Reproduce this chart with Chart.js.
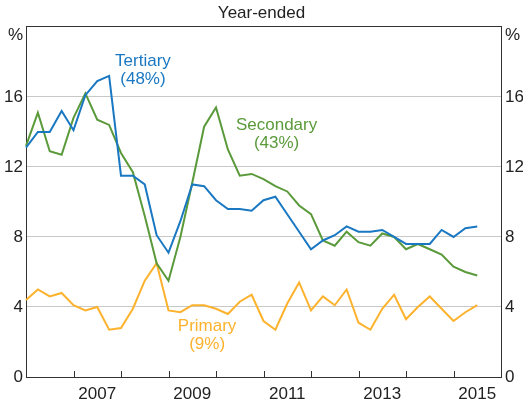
<!DOCTYPE html>
<html>
<head>
<meta charset="utf-8">
<script src="https://cdn.jsdelivr.net/npm/chart.js@4"></script>
<style>
  html, body { margin: 0; padding: 0; background: #fff; }
  #wrap { width: 523px; height: 406px; }
</style>
</head>
<body>
<div id="wrap"><canvas id="educationChart"></canvas></div>
<script>
const quarters = [
    'Dec-2005', 'Mar-2006', 'Jun-2006', 'Sep-2006', 'Dec-2006', 'Mar-2007', 'Jun-2007', 'Sep-2007',
    'Dec-2007', 'Mar-2008', 'Jun-2008', 'Sep-2008', 'Dec-2008', 'Mar-2009', 'Jun-2009', 'Sep-2009',
    'Dec-2009', 'Mar-2010', 'Jun-2010', 'Sep-2010', 'Dec-2010', 'Mar-2011', 'Jun-2011', 'Sep-2011',
    'Dec-2011', 'Mar-2012', 'Jun-2012', 'Sep-2012', 'Dec-2012', 'Mar-2013', 'Jun-2013', 'Sep-2013',
    'Dec-2013', 'Mar-2014', 'Jun-2014', 'Sep-2014', 'Dec-2014', 'Mar-2015', 'Jun-2015', 'Sep-2015',
    'Dec-2015'
];

const tertiary = [
    13.1, 14.0, 14.0, 15.2, 14.1, 16.1, 16.9, 17.2, 11.5, 11.5,
    11.0, 8.1, 7.1, 8.9, 11.0, 10.9, 10.1, 9.6, 9.6, 9.5,
    10.1, 10.3, 9.3, 8.3, 7.3, 7.8, 8.1, 8.6, 8.3, 8.3,
    8.4, 8.0, 7.6, 7.6, 7.6, 8.4, 8.0, 8.5, 8.6
];

const secondary = [
    13.2, 15.1, 12.9, 12.7, 14.8, 16.2, 14.7, 14.4, 12.8, 11.7,
    9.2, 6.5, 5.5, 8.0, 11.1, 14.3, 15.4, 13.0, 11.5, 11.6,
    11.3, 10.9, 10.6, 9.8, 9.3, 7.8, 7.5, 8.3, 7.7, 7.5,
    8.2, 8.0, 7.3, 7.6, 7.3, 7.0, 6.3, 6.0, 5.8
];

const primary = [
    4.4, 5.0, 4.6, 4.8, 4.1, 3.8, 4.0, 2.7, 2.8, 3.9,
    5.5, 6.5, 3.8, 3.7, 4.1, 4.1, 3.9, 3.6, 4.3, 4.7,
    3.2, 2.7, 4.2, 5.4, 3.8, 4.6, 4.1, 5.0, 3.1, 2.7,
    3.9, 4.7, 3.3, 4.0, 4.6, 3.9, 3.2, 3.7, 4.1
];

const yMin = 0;
const yMax = 20;
const yStep = 4;

const BLUE = '#1a78c2';
const GREEN = '#5a9a3a';
const ORANGE = '#fdb22d';
const TEXT = '#222';
const AXIS = '#333';
const GRID = '#c8c8c8';
const FONT_FAMILY = '"Liberation Sans", Arial, sans-serif';

// series names written on the plot, placed in data space (category index, value)
const seriesNotes = [
    { lines: ['Tertiary', '(48%)'], at: [9.85, 18.05], color: BLUE },
    { lines: ['Secondary', '(43%)'], at: [21.1, 14.35], color: GREEN },
    { lines: ['Primary', '(9%)'], at: [15.25, 2.9], color: ORANGE }
];

const notesPlugin = {
    id: 'seriesNotes',
    afterDraw(chart) {
        const { ctx, chartArea, scales } = chart;
        ctx.save();

        // year boundary tick marks, pointing up into the plot
        ctx.strokeStyle = AXIS;
        ctx.lineWidth = 1;
        ctx.beginPath();
        quarters.forEach((q, i) => {
            if (!q.startsWith('Dec') || i === 0 || i === quarters.length - 1) return;
            const px = Math.round(scales.x.getPixelForValue(i)) + 0.5;
            ctx.moveTo(px, chartArea.bottom);
            ctx.lineTo(px, chartArea.bottom - 6);
        });
        ctx.stroke();

        ctx.font = '17px ' + FONT_FAMILY;
        ctx.textBaseline = 'middle';
        ctx.textAlign = 'center';
        seriesNotes.forEach(note => {
            ctx.fillStyle = note.color;
            const px = scales.x.getPixelForValue(note.at[0]);
            const py = scales.y.getPixelForValue(note.at[1]);
            note.lines.forEach((line, i) => ctx.fillText(line, px, py + i * 18));
        });

        // unit markers at the top of both value axes
        ctx.fillStyle = TEXT;
        ctx.textAlign = 'right';
        ctx.fillText('%', scales.y.right - 3, chartArea.top + 8);
        ctx.textAlign = 'left';
        ctx.fillText('%', scales.y2.left + 4, chartArea.top + 8);
        ctx.restore();
    }
};

function yearLabel(label) {
    const [month, year] = label.split('-');
    return month === 'Jun' && Number(year) % 2 === 1 ? year : '';
}

const valueTicks = {
    stepSize: yStep,
    color: TEXT,
    font: { size: 17, family: FONT_FAMILY },
    callback: v => (v === yMax ? '' : v)
};

const lineStyle = { borderWidth: 2, pointRadius: 0, tension: 0, fill: false };

new Chart(document.getElementById('educationChart').getContext('2d'), {
    type: 'line',
    data: {
        labels: quarters,
        datasets: [
            { label: 'Tertiary', data: tertiary, borderColor: BLUE, ...lineStyle },
            { label: 'Secondary', data: secondary, borderColor: GREEN, ...lineStyle },
            { label: 'Primary', data: primary, borderColor: ORANGE, ...lineStyle }
        ]
    },
    options: {
        responsive: true,
        maintainAspectRatio: false,
        animation: false,
        devicePixelRatio: 1,
        plugins: {
            legend: { display: false },
            tooltip: { enabled: false },
            title: {
                display: true,
                text: 'Year-ended',
                color: TEXT,
                font: { size: 17, weight: 'normal', family: FONT_FAMILY },
                padding: { top: 3.5, bottom: 3 }
            }
        },
        scales: {
            x: {
                type: 'category',
                offset: false,
                afterFit: s => { s.height = 29; },
                border: { display: true, color: AXIS, width: 1 },
                grid: { drawOnChartArea: false, drawTicks: false },
                ticks: {
                    autoSkip: false,
                    maxRotation: 0,
                    padding: 7,
                    color: TEXT,
                    font: { size: 17, family: FONT_FAMILY },
                    callback: function (value) { return yearLabel(this.getLabelForValue(value)); }
                }
            },
            y: {
                position: 'left',
                min: yMin,
                max: yMax,
                afterFit: s => { s.width = 26; },
                border: { display: true, color: AXIS, width: 1 },
                grid: {
                    drawTicks: false,
                    color: c => (c.tick.value === yMax || c.tick.value === yMin ? AXIS : GRID),
                    lineWidth: 1
                },
                ticks: { ...valueTicks, padding: 3 }
            },
            y2: {
                position: 'right',
                min: yMin,
                max: yMax,
                afterFit: s => { s.width = 22; },
                border: { display: true, color: AXIS, width: 1 },
                grid: { drawOnChartArea: false, drawTicks: false },
                ticks: { ...valueTicks, padding: 4 }
            }
        }
    },
    plugins: [notesPlugin]
});
</script>
</body>
</html>
